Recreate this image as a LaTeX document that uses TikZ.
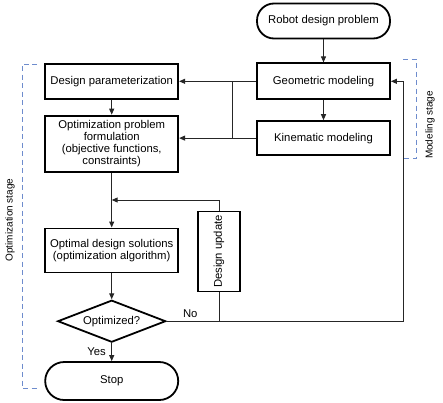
\documentclass[tikz,border=0pt]{standalone}
\usepackage{fontspec}
\setmainfont{Liberation Sans}
\usetikzlibrary{arrows.meta,positioning,shapes.geometric,calc}
\definecolor{StageBlue}{RGB}{110,140,205}

\begin{document}
\begin{tikzpicture}[
    x=1pt, y=1pt,
    node distance=20pt,
    font=\fontsize{11.3}{12}\selectfont,
    block/.style={
      rectangle,
      draw=black,
      line width=1.8pt,
      minimum width=133pt,
      inner sep=2pt,
      align=center
    },
    term/.style={
      block,
      rounded corners=17pt,
      minimum height=35pt
    },
    decide/.style={
      diamond,
      aspect=2.57,
      draw=black,
      line width=1.8pt,
      minimum width=108pt,
      minimum height=42pt,
      inner sep=0pt
    },
    arrow/.style={
      -{Triangle[length=6pt, width=5pt]},
      line width=1pt,
      draw=black!85
    },
    line/.style={
      line width=1pt,
      draw=black!85
    },
    stage/.style={
      draw=StageBlue,
      line width=1pt,
      dash pattern=on 5pt off 3.5pt
    },
    stagelabel/.style={
      rotate=90,
      font=\fontsize{10}{12}\selectfont
    }
  ]

    \useasboundingbox (0,0) rectangle (443,-402);

    % modeling column
    \node[term] (start) at (323.5,-21) {Robot design problem};
    \node[block, minimum height=36pt, below=23pt of start] (geo) {Geometric modeling};
    \node[block, minimum height=34pt, below=of geo] (kin) {Kinematic modeling};

    % optimization column
    \node[block, minimum height=35pt, left=77pt of geo] (param) {Design parameterization};
    \node[block, minimum height=56pt, below=15pt of param] (form)
      {Optimization problem\\formulation\\(objective functions,\\constraints)};
    \node[block, minimum height=44pt, below=55pt of form] (optsol)
      {Optimal design solutions\\(optimization algorithm)};
    \node[decide, below=26pt of optsol] (dec) {Optimized?};
    \node[term, minimum height=38pt, rounded corners=19pt, below=18pt of dec] (stop) {Stop};
    \node[block, rotate=90, minimum width=80pt, minimum height=42pt] (upd)
      at (219,-251.5) {Design update};

    % connectors
    \coordinate (split) at (232,0);
    \coordinate (right) at (403,0);
    \coordinate (back) at ($(form.south)!.5!(optsol.north)$);

    \draw[arrow] (start) -- (geo);
    \draw[arrow] (geo) -- (kin);
    \draw[arrow] (geo.west) -- (param.east);
    \draw[arrow] (kin.west) -- (kin.west -| form.east);
    \draw[line] (split |- geo.west) -- (split |- kin.west);
    \draw[arrow] (param) -- (form);
    \draw[arrow] (form) -- (optsol);
    \draw[arrow] (upd.east) |- (back);
    \draw[arrow] (optsol) -- (dec);
    \draw[arrow] (dec) -- node[left, xshift=-2pt] {Yes} (stop);
    \draw[arrow] (dec.east) -- node[above, pos=0.1] {No} (right |- dec.east)
      -- (right |- geo.east) -- (geo.east);
    \draw[line] (upd.west) -- (upd.west |- dec.east);

    % stage brackets
    \draw[stage] (37,-64) -- (22,-64) -- (22,-388) -- (37,-388);
    \draw[stage] (403,-59) -- (416,-59) -- (416,-158) -- (403,-158);
    \node[stagelabel] (optstage) at (10,-220) {Optimization stage};
    \node[stagelabel] (modstage) at (430,-125) {Modeling stage};

\end{tikzpicture}
\end{document}
